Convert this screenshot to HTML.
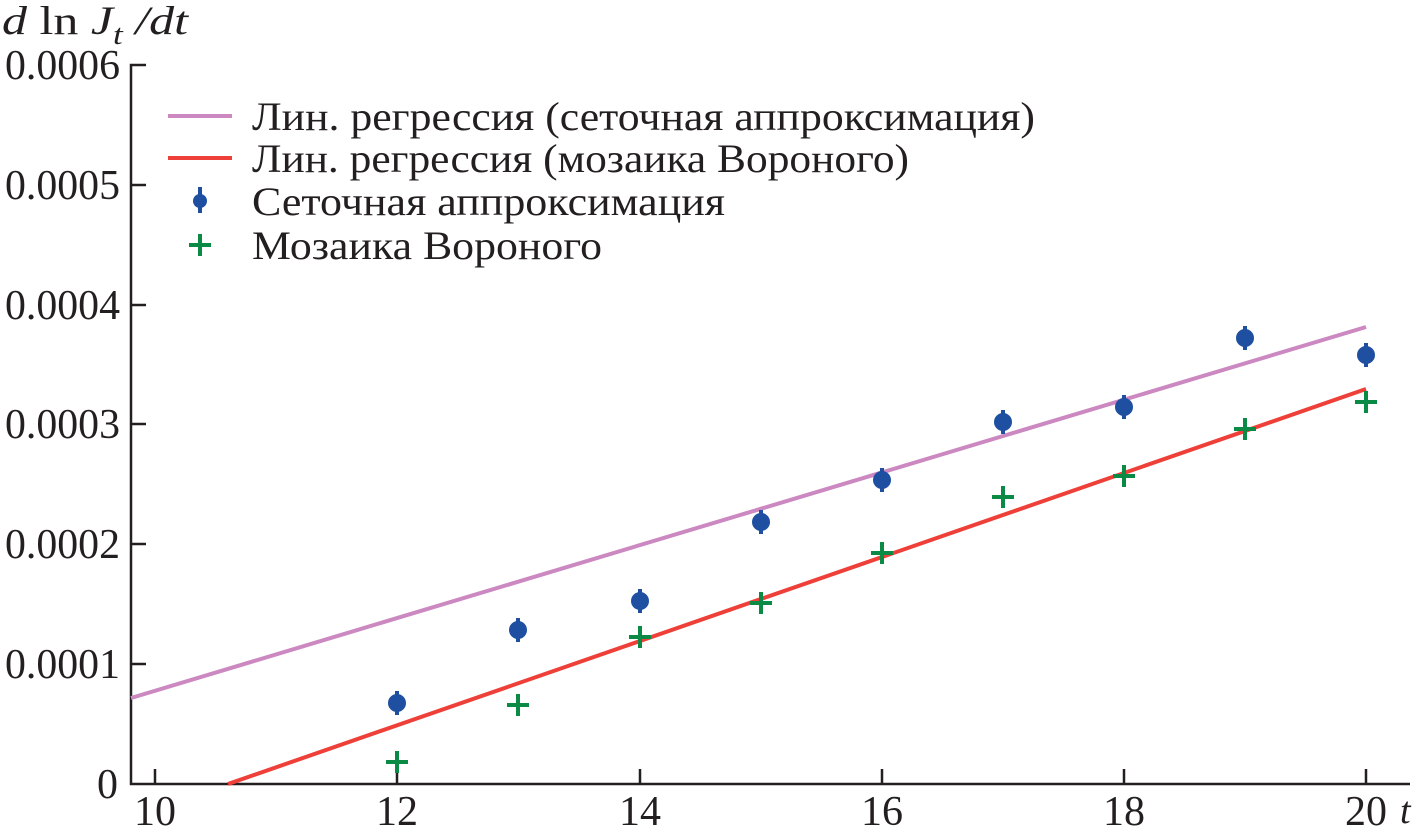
<!DOCTYPE html><html><head><style>body{margin:0;background:#fff}svg{display:block}text{font-family:"Liberation Serif",serif;fill:#231f20}</style></head><body>
<svg width="1415" height="839" viewBox="0 0 1415 839">
<g stroke="#231f20" stroke-width="2.5" fill="none">
<path d="M146 65H131V784H1410"/>
<path d="M131 185h15M131 305h15M131 424h15M131 544h15M131 664h15"/>
<path d="M155 784v-15M397 784v-15M640 784v-15M882 784v-15M1124 784v-15M1366 784v-15"/>
</g>
<g font-size="42" text-anchor="end">
<text x="120" y="79" textLength="115" lengthAdjust="spacingAndGlyphs">0.0006</text><text x="120" y="199" textLength="115" lengthAdjust="spacingAndGlyphs">0.0005</text><text x="120" y="319" textLength="115" lengthAdjust="spacingAndGlyphs">0.0004</text><text x="120" y="438" textLength="115" lengthAdjust="spacingAndGlyphs">0.0003</text><text x="120" y="558" textLength="115" lengthAdjust="spacingAndGlyphs">0.0002</text><text x="120" y="678" textLength="115" lengthAdjust="spacingAndGlyphs">0.0001</text><text x="118" y="798">0</text>
</g>
<g font-size="42" text-anchor="middle">
<text x="155" y="825">10</text><text x="397" y="825">12</text><text x="640" y="825">14</text><text x="882" y="825">16</text><text x="1124" y="825">18</text><text x="1366" y="825">20</text>
</g>
<text x="1400" y="823" font-size="38" font-style="italic">t</text>
<text x="2" y="34" font-size="40" textLength="186" lengthAdjust="spacingAndGlyphs"><tspan font-style="italic">d</tspan> ln <tspan font-style="italic">J</tspan><tspan font-style="italic" font-size="28" dy="10">t</tspan><tspan dy="-10"> </tspan><tspan font-style="italic">/dt</tspan></text>
<line x1="131" y1="698" x2="1366" y2="327" stroke="#cc88c0" stroke-width="4"/>
<line x1="228" y1="784" x2="1366" y2="389" stroke="#ee4038" stroke-width="4"/>
<g fill="#1e4fa0" stroke="#1e4fa0" stroke-width="4">
<path d="M397 691v24M518 618v24M640 589v24M761 510v24M882 468v24M1003 410v24M1124 395v24M1245 326v24M1366 343v24"/>
<circle cx="397" cy="703" r="7"/><circle cx="518" cy="630" r="7"/><circle cx="640" cy="601" r="7"/><circle cx="761" cy="522" r="7"/><circle cx="882" cy="480" r="7"/><circle cx="1003" cy="422" r="7"/><circle cx="1124" cy="407" r="7"/><circle cx="1245" cy="338" r="7"/><circle cx="1366" cy="355" r="7"/>
</g>
<g stroke="#0a8a44" stroke-width="4" fill="none">
<path d="M386 762h22M397 751v22M507 705h22M518 694v22M629 637h22M640 626v22M750 603h22M761 592v22M871 553h22M882 542v22M992 497h22M1003 486v22M1113 476h22M1124 465v22M1234 429h22M1245 418v22M1355 402h22M1366 391v22"/>
<path d="M189 245h22M200 234v22"/>
</g>
<line x1="168" y1="116" x2="232" y2="116" stroke="#cc88c0" stroke-width="4"/>
<line x1="168" y1="158" x2="232" y2="158" stroke="#ee4038" stroke-width="4"/>
<path d="M200 187v26" stroke="#1e4fa0" stroke-width="4"/><circle cx="200" cy="201" r="7" fill="#1e4fa0"/>
<g font-size="40">
<text x="252" y="130" textLength="783" lengthAdjust="spacingAndGlyphs">Лин. регрессия (сеточная аппроксимация)</text>
<text x="252" y="172" textLength="657" lengthAdjust="spacingAndGlyphs">Лин. регрессия (мозаика Вороного)</text>
<text x="252" y="215" textLength="473" lengthAdjust="spacingAndGlyphs">Сеточная аппроксимация</text>
<text x="252" y="259" textLength="350" lengthAdjust="spacingAndGlyphs">Мозаика Вороного</text>
</g>
</svg></body></html>
